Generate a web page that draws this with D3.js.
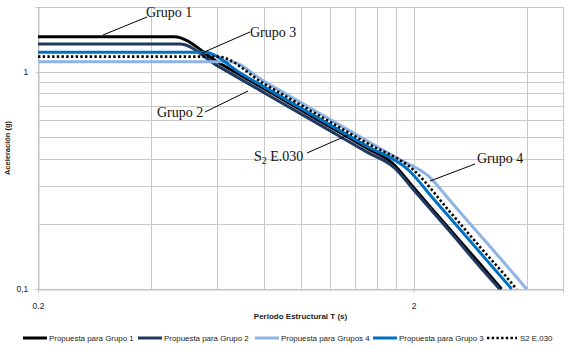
<!DOCTYPE html>
<html>
<head>
<meta charset="utf-8">
<script src="https://cdn.jsdelivr.net/npm/d3@7"></script>
<style>
  body { margin: 0; background: #fff; }
  svg { display: block; }
</style>
</head>
<body>
<svg id="chart" width="570" height="349"></svg>
<script>
// periodos (s) y aceleraciones (g)
const tGrupo1 = [0.2, 0.46, 0.6, 0.8, 1.0, 1.25, 1.5, 1.75, 2.0, 2.5, 3.0, 3.43];
const aGrupo1 = [1.46, 1.46, 1.118, 0.839, 0.671, 0.537, 0.447, 0.383, 0.294, 0.188, 0.131, 0.1];

const tGrupo2 = [0.2, 0.477, 0.6, 0.8, 1.0, 1.25, 1.5, 1.78, 2.0, 2.5, 3.0, 3.39];
const aGrupo2 = [1.35, 1.35, 1.073, 0.805, 0.644, 0.515, 0.429, 0.362, 0.287, 0.184, 0.127, 0.1];

const tGrupo4 = [0.2, 0.649, 0.8, 1.0, 1.25, 1.5, 1.8, 2.2, 2.5, 3.0, 3.5, 4.0];
const aGrupo4 = [1.118, 1.118, 0.908, 0.726, 0.581, 0.484, 0.403, 0.33, 0.256, 0.178, 0.131, 0.1];

const tGrupo3 = [0.2, 0.554, 0.7, 0.8, 1.0, 1.25, 1.5, 1.945, 2.25, 2.5, 3.0, 3.65];
const aGrupo3 = [1.236, 1.236, 0.979, 0.856, 0.685, 0.548, 0.457, 0.352, 0.263, 0.213, 0.148, 0.1];

const tNorma = [0.2, 0.6, 0.8, 1.0, 1.25, 1.5, 2.0, 2.5, 3.0, 3.5, 3.76];
const aNorma = [1.18, 1.18, 0.885, 0.708, 0.566, 0.472, 0.354, 0.227, 0.157, 0.116, 0.1];

const xTicks = [0.2, 2];
const xGrid = [0.4, 0.6, 0.8, 1.0, 1.2, 1.4, 1.6, 1.8, 2.0, 4.0];
const yTicks = [0.1, 1];
const yGrid = [0.2, 0.3, 0.4, 0.5, 0.6, 0.7, 0.8, 0.9, 1];

const series = [
  {name: "Propuesta para Grupo 1", t: tGrupo1, a: aGrupo1, color: "#000000", w: 3},
  {name: "Propuesta para Grupo 2", t: tGrupo2, a: aGrupo2, color: "#1f3a62", w: 3},
  {name: "Propuesta para Grupos 4", t: tGrupo4, a: aGrupo4, color: "#8db4e2", w: 3},
  {name: "Propuesta para Grupo 3", t: tGrupo3, a: aGrupo3, color: "#0070c0", w: 3},
  {name: "S2 E.030", t: tNorma, a: aNorma, color: "#000000", w: 2.6, dash: "2.4,2.3"}
];

// etiquetas con linea guia
const notas = [
  {texto: "Grupo 1", x: 146, y: 17, x1: 147, y1: 17, x2: 103, y2: 35},
  {texto: "Grupo 3", x: 250, y: 37, x1: 250, y1: 32, x2: 202, y2: 53},
  {texto: "Grupo 2", x: 157, y: 117, x1: 205, y1: 112, x2: 248, y2: 91},
  {texto: "Grupo 4", x: 477, y: 163, x1: 475, y1: 164, x2: 430, y2: 181}
];

const svg = d3.select("#chart");
const area = {left: 38, right: 563, top: 7, bottom: 289};

const x = d3.scaleLog().domain([0.2, 5]).range([area.left, area.right]);
const y = d3.scaleLog().domain([0.1, 2]).range([area.bottom, area.top]);

// rejilla
svg.append("g").selectAll("line")
  .data(yGrid)
  .join("line")
  .attr("x1", area.left).attr("x2", area.right)
  .attr("y1", d => Math.round(y(d)) + 0.5).attr("y2", d => Math.round(y(d)) + 0.5)
  .attr("stroke", "#c9c9c9").attr("stroke-width", 1);

svg.append("g").selectAll("line")
  .data(xGrid)
  .join("line")
  .attr("x1", d => Math.round(x(d)) + 0.5).attr("x2", d => Math.round(x(d)) + 0.5)
  .attr("y1", area.top).attr("y2", area.bottom)
  .attr("stroke", "#c9c9c9").attr("stroke-width", 1);

// borde
svg.append("rect")
  .attr("x", area.left + 0.5).attr("y", area.top + 0.5)
  .attr("width", area.right - area.left).attr("height", area.bottom - area.top)
  .attr("fill", "none").attr("stroke", "#c9c9c9");

// ejes
const axisX = d3.axisBottom(x).tickValues(xTicks).tickFormat(d => d === 0.2 ? "0.2" : "2").tickSize(3);
const axisY = d3.axisLeft(y).tickValues(yTicks).tickFormat(d => d === 1 ? "1" : "0,1").tickSize(3);

const gx = svg.append("g")
  .attr("transform", `translate(0, ${area.bottom + 0.5})`)
  .call(axisX);
const gy = svg.append("g")
  .attr("transform", `translate(${area.left + 0.5}, 0)`)
  .call(axisY);

[gx, gy].forEach(g => {
  g.select(".domain").attr("stroke", "#bfbfbf");
  g.selectAll(".tick line").attr("stroke", "#bfbfbf");
  g.selectAll("text")
    .attr("font-family", "'Liberation Sans', Arial, sans-serif")
    .attr("font-size", 8.5)
    .attr("fill", "#222");
});
gx.selectAll("text").attr("dy", "1.6em");
gy.selectAll("text").attr("dx", "-0.5em");

// titulos de ejes
svg.append("text")
  .attr("x", (area.left + area.right) / 2)
  .attr("y", 319)
  .attr("text-anchor", "middle")
  .attr("font-family", "'Liberation Sans', Arial, sans-serif")
  .attr("font-size", 8)
  .attr("font-weight", "bold")
  .attr("fill", "#222")
  .text("Periodo Estructural  T (s)");

svg.append("text")
  .attr("transform", `translate(10, ${(area.top + area.bottom) / 2}) rotate(-90)`)
  .attr("text-anchor", "middle")
  .attr("font-family", "'Liberation Sans', Arial, sans-serif")
  .attr("font-size", 7.5)
  .attr("font-weight", "bold")
  .attr("fill", "#222")
  .text("Aceleración  (g)");

// curvas
svg.append("clipPath").attr("id", "clip")
  .append("rect")
  .attr("x", area.left).attr("y", area.top)
  .attr("width", area.right - area.left).attr("height", area.bottom - area.top + 1);

const line = d3.line()
  .x(d => x(d[0]))
  .y(d => y(d[1]))
  .curve(d3.curveMonotoneX);

const curvas = svg.append("g").attr("clip-path", "url(#clip)");
series.forEach(s => {
  curvas.append("path")
    .datum(s.t.map((t, i) => [t, s.a[i]]))
    .attr("d", line)
    .attr("fill", "none")
    .attr("stroke", s.color)
    .attr("stroke-width", s.w)
    .attr("stroke-dasharray", s.dash || null);
});

// anotaciones
notas.forEach(n => {
  svg.append("line")
    .attr("x1", n.x1).attr("y1", n.y1).attr("x2", n.x2).attr("y2", n.y2)
    .attr("stroke", "#000").attr("stroke-width", 1);
  svg.append("text")
    .attr("x", n.x).attr("y", n.y)
    .attr("font-family", "'Liberation Serif', 'Times New Roman', serif")
    .attr("font-size", 14)
    .attr("fill", "#111")
    .text(n.texto);
});

// S2 E.030 con subindice
const sNota = svg.append("text")
  .attr("x", 254).attr("y", 161)
  .attr("font-family", "'Liberation Serif', 'Times New Roman', serif")
  .attr("font-size", 14)
  .attr("fill", "#111");
sNota.append("tspan").text("S");
sNota.append("tspan").attr("font-size", 10).attr("dy", 3).text("2");
sNota.append("tspan").attr("dy", -3).text(" E.030");
svg.append("line")
  .attr("x1", 307).attr("y1", 153).attr("x2", 348).attr("y2", 135)
  .attr("stroke", "#000").attr("stroke-width", 1);

// leyenda
const leyendaX = [23, 138, 255, 373, 487];
const leyenda = svg.append("g");
series.forEach((s, i) => {
  const g = leyenda.append("g").attr("transform", `translate(${leyendaX[i]}, 338)`);
  g.append("line")
    .attr("x1", 0).attr("x2", s.dash ? 30 : 24)
    .attr("y1", 0).attr("y2", 0)
    .attr("stroke", s.color)
    .attr("stroke-width", s.w)
    .attr("stroke-dasharray", s.dash || null);
  g.append("text")
    .attr("x", s.dash ? 33 : 26).attr("y", 3)
    .attr("font-family", "'Liberation Sans', Arial, sans-serif")
    .attr("font-size", 7.9)
    .attr("textLength", null)
    .attr("fill", "#222")
    .text(s.name);
});
</script>
</body>
</html>
